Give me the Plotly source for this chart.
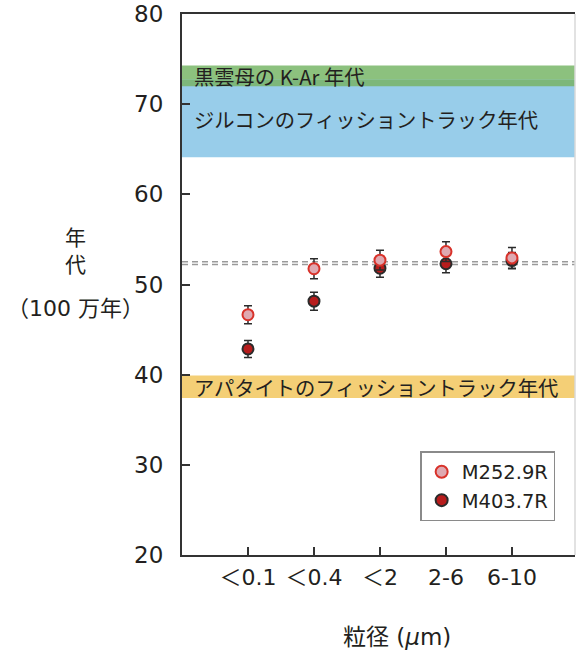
import plotly.graph_objects as go

# ---- data ----
categories = ["＜0.1", "＜0.4", "＜2", "2-6", "6-10"]
m252_age = [46.65, 51.75, 52.7, 53.65, 52.95]
m252_err = [1.0, 1.1, 1.1, 1.1, 1.15]
m403_age = [42.85, 48.15, 51.8, 52.3, 52.65]
m403_err = [0.95, 1.0, 1.0, 1.0, 0.9]

band_labels = ["黒雲母の K-Ar 年代", "ジルコンのフィッショントラック年代", "アパタイトのフィッショントラック年代"]
band_low = [72.0, 64.1, 37.4]
band_high = [74.3, 72.7, 39.9]
band_colors = ["#8cc17e", "#98cdea", "#f4cf76"]

ref_lines = [52.52, 52.22]
y_ticks = [20, 30, 40, 50, 60, 70, 80]

FONT = "DejaVu Sans, Noto Sans CJK JP, sans-serif"
CJK = "Noto Sans CJK JP, DejaVu Sans, sans-serif"
TXT = "#231f20"

x_idx = list(range(len(categories)))

fig = go.Figure()

shapes = []
for lo, hi, col in zip(band_low, band_high, band_colors):
    shapes.append(dict(type="rect", xref="paper", yref="y", x0=0, x1=1, y0=lo, y1=hi,
                       fillcolor=col, line=dict(width=0), layer="below"))
ov_lo = max(band_low[0], band_low[1])
ov_hi = min(band_high[0], band_high[1])
shapes.append(dict(type="rect", xref="paper", yref="y", x0=0, x1=1, y0=ov_lo, y1=ov_hi,
                   fillcolor="#7db77a", line=dict(width=0), layer="below"))
for v in ref_lines:
    shapes.append(dict(type="line", xref="paper", yref="y", x0=0, x1=1, y0=v, y1=v,
                       line=dict(color="#9a9a9a", width=1.5, dash="6px,4px"), layer="below"))
shapes.append(dict(type="line", xref="paper", yref="paper", x0=1, x1=1, y0=0, y1=1,
                   line=dict(color="#d8d8d8", width=1.5)))

fig.add_trace(go.Scatter(
    x=x_idx, y=m403_age, mode="markers", name="M403.7R", legendrank=2,
    marker=dict(size=11, color="#b71c1c", line=dict(color="#2b2b2b", width=2)),
    error_y=dict(type="data", array=m403_err, color="#2b2b2b", thickness=1.5, width=4),
))
fig.add_trace(go.Scatter(
    x=x_idx, y=m252_age, mode="markers", name="M252.9R", legendrank=1,
    marker=dict(size=11, color="#dfa9b1", line=dict(color="#d8322a", width=2)),
    error_y=dict(type="data", array=m252_err, color="#2b2b2b", thickness=1.5, width=4),
))

annotations = []
for lab, lo, hi in zip(band_labels, band_low, band_high):
    annotations.append(dict(text=lab, xref="paper", yref="y", x=0.026, y=(lo + hi) / 2,
                            xanchor="left", yanchor="middle", showarrow=False,
                            font=dict(family=CJK, size=20.3, color=TXT)))
annotations.append(dict(text="年<br>代", xref="paper", yref="paper", x=-0.272, y=0.565,
                        xanchor="center", yanchor="middle", showarrow=False,
                        font=dict(family=CJK, size=21, color=TXT)))
annotations.append(dict(text="（100 万年）", xref="paper", yref="paper", x=-0.272, y=0.456,
                        xanchor="center", yanchor="middle", showarrow=False,
                        font=dict(family=FONT, size=22, color=TXT)))
annotations.append(dict(text="粒径 (<i>μ</i>m)", xref="paper", yref="paper", x=0.547, y=-0.152,
                        xanchor="center", yanchor="middle", showarrow=False,
                        font=dict(family=FONT, size=23, color=TXT)))

fig.update_layout(
    template="none",
    width=576, height=655,
    margin=dict(l=182, r=1, t=14, b=100, autoexpand=False),
    paper_bgcolor="white", plot_bgcolor="white",
    font=dict(family=FONT, color=TXT),
    shapes=shapes, annotations=annotations,
    showlegend=True,
    legend=dict(x=0.606, y=0.192, xanchor="left", yanchor="top",
                bordercolor="#8a8a8a", borderwidth=1.5, bgcolor="white",
                font=dict(family=FONT, size=19.5, color=TXT),
                itemsizing="constant", tracegroupgap=0),
    xaxis=dict(range=[-1, 4.955], tickmode="array", tickvals=x_idx, ticktext=categories,
               ticks="inside", ticklen=8, tickwidth=1.5, tickcolor="#333",
               showline=True, linecolor="#333", linewidth=2, mirror=True,
               showgrid=False, zeroline=False, ticklabelstandoff=2, automargin=False,
               ticklabeloverflow="allow",
               tickfont=dict(family=FONT, size=22, color=TXT)),
    yaxis=dict(range=[20, 80], tickvals=y_ticks,
               ticks="inside", ticklen=8, tickwidth=1.5, tickcolor="#333",
               showline=True, linecolor="#333", linewidth=2, mirror=False,
               showgrid=False, zeroline=False, ticklabelstandoff=12, automargin=False,
               ticklabeloverflow="allow",
               tickfont=dict(family=FONT, size=23, color=TXT)),
)

# remove the default 8px page margin so the 576x655 figure fills the window exactly
fig.write_html("out.html", config={"displayModeBar": False},
               post_script="document.body.style.margin='0';")
